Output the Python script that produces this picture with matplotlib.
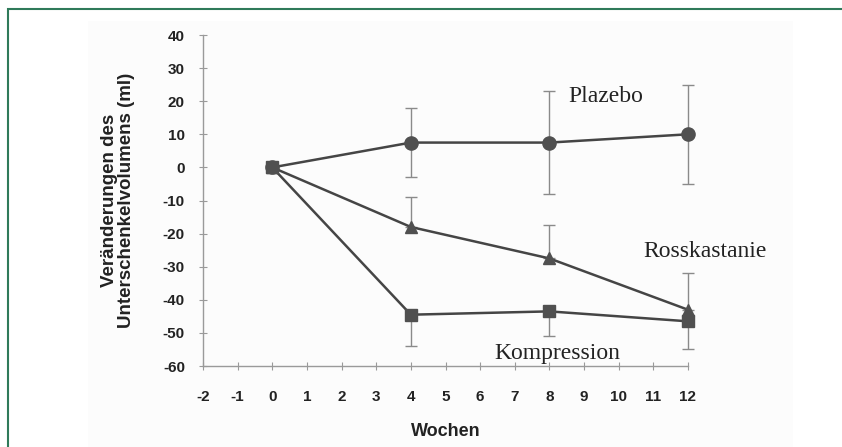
import matplotlib
matplotlib.use("Agg")
import matplotlib.pyplot as plt
from matplotlib.patches import Rectangle

plt.rcParams["axes.unicode_minus"] = False

weeks = [0, 4, 8, 12]
plazebo = [0, 7.5, 7.5, 10]
plazebo_err = [0, 10.5, 15.5, 15]
rosskastanie = [0, -18, -27.5, -43]
rosskastanie_err_up = [0, 9, 10, 11]
kompression = [0, -44.5, -43.5, -46.5]
kompression_err_down = [0, 9.5, 7.5, 8.5]

xticks = list(range(-2, 13))
yticks = list(range(-60, 41, 10))

fig = plt.figure(figsize=(8.42, 4.47), dpi=100)
W, H = 842, 447

# green frame
fig.patches.append(Rectangle((8 / W, -0.1), (W + 20) / W, 1 - 9 / H + 0.1,
                             transform=fig.transFigure, fill=False,
                             edgecolor="#2f7a5a", linewidth=1.5))
# faint grey panel
fig.patches.append(Rectangle((88 / W, 0.0), (793 - 88) / W, 1 - 21 / H,
                             transform=fig.transFigure, facecolor="#fcfcfc",
                             edgecolor="none", zorder=-1))

ax = fig.add_axes([203 / W, 1 - 366 / H, (688 - 203) / W, (366 - 35) / H])
ax.set_facecolor("none")

line_c = "#454545"
err_c = "#8a8a8a"

ebs = []
ebs.append(ax.errorbar(weeks[1:], plazebo[1:], yerr=plazebo_err[1:], fmt="none",
                       ecolor=err_c, elinewidth=1.0, capsize=4, capthick=1.0, zorder=2))
ebs.append(ax.errorbar(weeks[1:], rosskastanie[1:],
                       yerr=[[0] * 3, rosskastanie_err_up[1:]], fmt="none",
                       ecolor=err_c, elinewidth=1.0, capsize=4, capthick=1.0, zorder=2))
ebs.append(ax.errorbar(weeks[1:], kompression[1:],
                       yerr=[kompression_err_down[1:], [0] * 3], fmt="none",
                       ecolor=err_c, elinewidth=1.0, capsize=4, capthick=1.0, zorder=2))
for eb in ebs:
    for child in eb.get_children():
        child.set_clip_on(False)

for series, mk, ms, z in [(plazebo, "o", 9.5, 3), (rosskastanie, "^", 8.5, 3),
                           (kompression, "s", 9, 4)]:
    ax.plot(weeks, series, color=line_c, lw=1.8, marker=mk, ms=ms,
            markerfacecolor="#505050", markeredgecolor="#505050", zorder=z,
            clip_on=False)

ax.set_xlim(-2, 12)
ax.set_ylim(-60, 40)
ax.set_xticks(xticks)
ax.set_yticks(yticks)
for s in ["top", "right"]:
    ax.spines[s].set_visible(False)
for s in ["left", "bottom"]:
    ax.spines[s].set_color("#9a9a9a")
    ax.spines[s].set_linewidth(1.0)
ax.tick_params(direction="inout", length=6, width=0.8, color="#9a9a9a",
               labelsize=11, labelcolor="#222222")
ax.tick_params(axis="x", pad=14)
ax.tick_params(axis="y", pad=10)
for lab in ax.get_xticklabels() + ax.get_yticklabels():
    lab.set_fontweight("bold")
    lab.set_fontfamily("Liberation Sans")

ax.set_xlabel("Wochen", fontsize=13, fontweight="bold",
              family="Liberation Sans", color="#222222", labelpad=14)
ax.set_ylabel("Veränderungen des\nUnterschenkelvolumens (ml)", fontsize=13.5,
              fontweight="bold", family="Liberation Sans", color="#222222",
              labelpad=20, linespacing=1.0)

serif = "Liberation Serif"
ax.text(8.55, 21.3, "Plazebo", family=serif, fontsize=17, color="#222222",
        va="center", ha="left")
ax.text(10.7, -25.3, "Rosskastanie", family=serif, fontsize=17,
        color="#222222", va="center", ha="left")
ax.text(6.4, -56.3, "Kompression", family=serif, fontsize=17,
        color="#222222", va="center", ha="left")

fig.savefig("out.png", dpi=100)
